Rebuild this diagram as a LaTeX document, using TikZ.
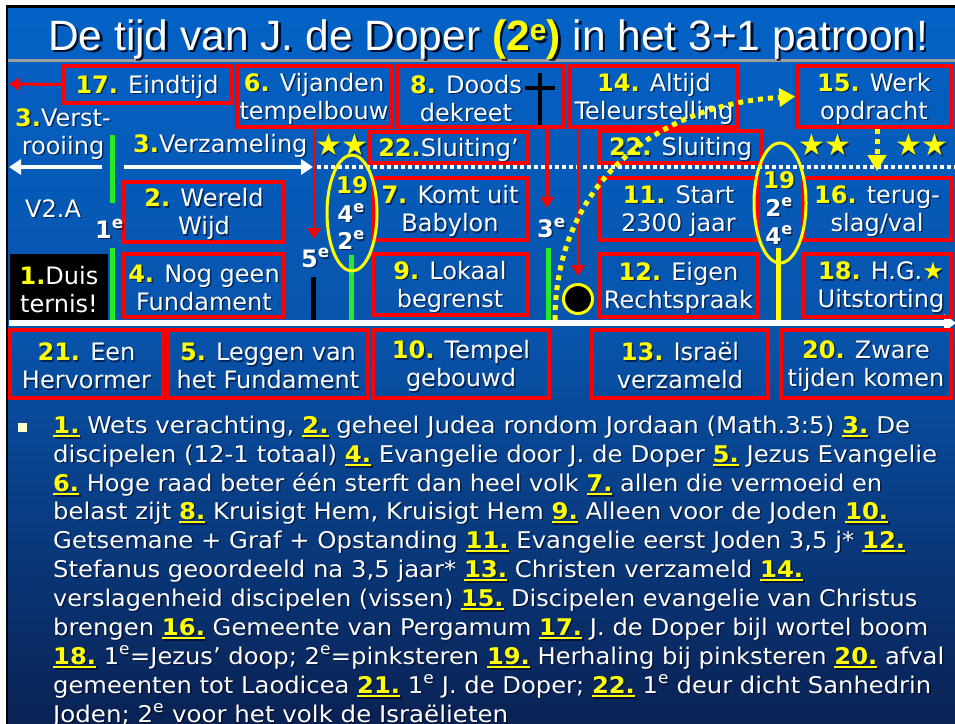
\documentclass[tikz,border=0pt]{standalone}
\usepackage{fontspec}
\setmainfont{DejaVu Sans}
\newfontfamily\titlefont{Liberation Sans}
\usepackage{graphicx}
\usetikzlibrary{arrows.meta,shapes.geometric}
\definecolor{bgA}{RGB}{4,98,198}
\definecolor{bgB}{RGB}{8,84,172}
\definecolor{bgC}{RGB}{10,34,84}
\definecolor{ylw}{RGB}{255,255,0}
\definecolor{rd}{RGB}{255,0,0}
\definecolor{grn}{RGB}{40,235,40}
\definecolor{shadowc}{RGB}{0,0,20}
\definecolor{bulc}{RGB}{255,255,204}
\colorlet{nyel}{ylw}
\newcommand\ynum[1]{\textcolor{nyel}{\textbf{#1}}}
\newcommand\ynumu[1]{\textcolor{nyel}{\setbox0\hbox{\textbf{#1}}\rlap{\rule[-4pt]{\wd0}{2.5pt}}\box0}}
\newcommand\supe{\textsuperscript{e}}
\newcommand\boxfont{\fontsize{24}{28}\selectfont}
\newcommand\lnfont{\fontsize{23}{29}\selectfont}
\newcommand\ttltext{\resizebox{880pt}{!}{\titlefont\fontsize{42}{50}\selectfont De tijd van J. de Doper \textcolor{nyel}{\textbf{(2\textsuperscript{e})}} in het 3+1 patroon!}}

\tikzset{
 rbox/.style={draw=rd, line width=3.5pt, inner sep=0pt},
 btx/.style={align=center, font=\boxfont, text=white, inner sep=0pt},
 blab/.style={btx, anchor=base west, font=\boxfont\bfseries},
 elab/.style={btx, font=\fontsize{23}{27}\selectfont\bfseries},
 stars/.style={text=ylw, inner sep=0pt, font=\fontsize{30}{30}\selectfont},
 shadowtxt/.style={text=shadowc, text opacity=0.55, execute at begin node={\colorlet{nyel}{shadowc}}},
 ltx/.style={anchor=base west, font=\lnfont, text=white, inner sep=0pt},
 rarrow/.style={draw=rd, line width=3pt, -{Triangle[length=11pt,width=13pt]}},
 warrow/.style={draw=white, line width=4pt, -{Triangle[length=12pt,width=15pt]}},
 ydot/.style={draw=ylw, line width=5pt, dash pattern=on 5pt off 5pt, -{Triangle[length=16pt,width=18pt]}},
 vbar/.style={line width=5pt},
}

\newcommand\boxlab[7]{%
 \node[rbox, minimum width={#4-#2}, minimum height={#5-#3}] (#1) at ({(#2+#4)/2},{(#3+#5)/2}) {};
 \node[btx, shadowtxt] (#1s) at ({(#2+#4)/2+#6+1.5},{(#3+#5)/2+3.5}) {#7};
 \node[btx] (#1t) at ({(#2+#4)/2+#6},{(#3+#5)/2+2}) {#7};}
\newcommand\freelab[4]{%
 \node[#3, shadowtxt] (#1s) at ([shift={(1.5,1.5)}]#2) {#4};
 \node[#3] (#1) at (#2) {#4};}
\newcommand\txtline[4]{%
 \node[ltx, shadowtxt] (#1s) at (54.5,{#2+1.5}) {\resizebox{#3pt}{\height}{#4}};
 \node[ltx] (#1) at (53,#2) {\resizebox{#3pt}{\height}{#4}};}

\begin{document}
\begin{tikzpicture}[x=1pt,y=-1pt]
\useasboundingbox (0,0) rectangle (955,723);
\fill[white] (0,0) rectangle (955,723);
\fill[top color=bgA, bottom color=bgB] (8,8) rectangle (955,330);
\fill[top color=bgB, bottom color=bgC] (8,330) rectangle (955,723);
\draw[black, line width=2.5pt] (7,730) -- (7,6.5) -- (960,6.5);
\fill[black!38] (8,58.5) rectangle (955,62);

% title
\node[anchor=base west, inner sep=0pt, text=shadowc, text opacity=0.85,
      execute at begin node={\colorlet{nyel}{shadowc}}] (ttls) at (50.5,52.5) {\ttltext};
\node[anchor=base west, inner sep=0pt, text=white] (ttl) at (48,50) {\ttltext};

% white arrows on the upper line
\coordinate (wl0) at (102,167); \coordinate (wl1) at (9,167);
\coordinate (wr0) at (124,167); \coordinate (wr1) at (313,167);
\coordinate (wd0) at (317,167); \coordinate (wd1) at (955,167);
\draw[warrow] (wl0) -- (wl1);
\draw[warrow] (wr0) -- (wr1);
\draw[white, line width=4pt, dash pattern=on 3.5pt off 3.5pt] (wd0) -- (wd1);

% vertical bars
\coordinate (g1a) at (112,135); \coordinate (g1b) at (112,203);
\coordinate (g2a) at (112,248); \coordinate (g2b) at (112,320);
\coordinate (k1a) at (313,277); \coordinate (k1b) at (313,320);
\coordinate (g3a) at (351,255); \coordinate (g3b) at (351,320);
\coordinate (g4a) at (548,248); \coordinate (g4b) at (548,320);
\coordinate (y1a) at (778,248); \coordinate (y1b) at (778,320);
\draw[vbar, grn] (g1a) -- (g1b);
\draw[vbar, grn] (g2a) -- (g2b);
\draw[vbar, black] (k1a) -- (k1b);
\draw[vbar, grn] (g3a) -- (g3b);
\draw[vbar, grn] (g4a) -- (g4b);
\draw[vbar, ylw] (y1a) -- (y1b);

% main time axis
\coordinate (ax0) at (9,323); \coordinate (ax1) at (956,323);
\draw[white, line width=6pt, -{Triangle[length=12pt,width=17pt]}] (ax0) -- (ax1);

% black box
\node[fill=black, minimum width=98, minimum height=66, inner sep=0pt] (blk) at (59,287) {};
\freelab{blkt}{59,290}{btx}{\ynum{1.}Duis\\ternis!}

% red boxes
\boxlab{b17}{63}{66}{231}{103}{0}{\ynum{17.} Eindtijd}
\boxlab{b6}{237}{66}{391}{127}{0}{\ynum{6.} Vijanden\\tempelbouw}
\boxlab{b8}{397}{66}{563}{127}{(-14)}{\ynum{8.} Doods\\dekreet}
\boxlab{b14}{570}{66}{738}{127}{0}{\ynum{14.} Altijd\\Teleurstelling}
\boxlab{b15}{797}{66}{951}{127}{0}{\ynum{15.} Werk\\opdracht}
\boxlab{b22a}{370}{132}{527}{163}{0}{\ynum{22.}Sluiting’}
\boxlab{b22}{600}{131}{761}{163}{0}{\ynum{22.} Sluiting}
\boxlab{b2}{124}{182}{284}{242}{0}{\ynum{2.} Wereld\\Wijd}
\boxlab{b4}{124}{254}{284}{317}{0}{\ynum{4.} Nog geen\\Fundament}
\boxlab{b7}{373}{178}{527}{240}{0}{\ynum{7.} Komt uit\\Babylon}
\boxlab{b9}{373}{254}{527}{315}{0}{\ynum{9.} Lokaal\\begrenst}
\boxlab{b11}{599}{178}{758}{240}{0}{\ynum{11.} Start\\2300 jaar}
\boxlab{b12}{599}{254}{758}{317}{0}{\ynum{12.} Eigen\\Rechtspraak}
\boxlab{b16}{803}{178}{951}{240}{0}{\ynum{16.} terug-\\slag/val}
\boxlab{b18}{803}{254}{951}{317}{4}{\ynum{18.} H.G.\textcolor{nyel}{★}\\Uitstorting}
\boxlab{b21}{10}{330}{163}{398}{0}{\ynum{21.} Een\\Hervormer}
\boxlab{b5}{168}{330}{368}{398}{0}{\ynum{5.} Leggen van\\het Fundament}
\boxlab{b10}{373}{330}{549}{398}{0}{\ynum{10.} Tempel\\gebouwd}
\boxlab{b13}{592}{330}{768}{398}{0}{\ynum{13.} Israël\\verzameld}
\boxlab{b20}{781}{330}{951}{398}{0}{\ynum{20.} Zware\\tijden komen}

% cross in box 8
\coordinate (cr1) at (540,73); \coordinate (cr2) at (540,125);
\coordinate (cr3) at (525,88); \coordinate (cr4) at (555,88);
\draw[black, line width=3.5pt] (cr1) -- (cr2);
\draw[black, line width=3.5pt] (cr3) -- (cr4);

% free labels
\freelab{vr}{63,134}{btx}{\ynum{3.}Verst-\\rooiing}
\freelab{vz}{133,152}{btx, anchor=base west}{\ynum{3.}Verzameling}
\freelab{v2a}{25,217}{btx, anchor=base west}{V2.A}
\freelab{e1}{95,238}{blab}{1\supe}
\freelab{e5}{301,267}{blab}{5\supe}
\freelab{e3}{537,237}{blab}{3\supe}
\freelab{st1}{342,145}{stars}{★★}
\freelab{st2}{825,145}{stars}{★★}
\freelab{st3}{922,145}{stars}{★★}

% ellipses
\node[ellipse, draw=ylw, line width=3pt, minimum width=50, minimum height=116, inner sep=0pt] (el1) at (352,213) {};
\node[ellipse, draw=ylw, line width=3pt, minimum width=52, minimum height=120, inner sep=0pt] (el2) at (780,203) {};
\freelab{l19a}{352,185}{elab}{\ynum{19}}
\freelab{l4a}{351,213}{elab}{4\supe}
\freelab{l2a}{351,240}{elab}{2\supe}
\freelab{l19b}{779,180}{elab}{\ynum{19}}
\freelab{l2b}{779,207}{elab}{2\supe}
\freelab{l4b}{779,235}{elab}{4\supe}

% red arrows
\coordinate (e17) at (9,84);
\coordinate (e6) at (314,239);
\coordinate (e8) at (547,208);
\coordinate (e14) at (578,276);
\draw[rarrow] (b17.west) -- (e17);
\draw[rarrow] (b6.south) -- (e6);
\draw[rarrow] (e8 |- b8.south) -- (e8);
\draw[rarrow] (e14 |- b14.south) -- (e14);

% black dot
\node[circle, fill=black, draw=ylw, line width=3pt, minimum size=29, inner sep=0pt] (dot) at (578,299) {};

% yellow dotted arrows
\coordinate (e15) at (877,171);
\draw[ydot] (e15 |- b15.south) -- (e15);
\coordinate (c0) at (555,320);
\draw[ydot] (c0) .. controls (555,190) and (650,105) .. (b15.west);

% bullet text
\node[fill=bulc, minimum size=9, inner sep=0pt] (bul) at (22.5,427.5) {};
\txtline{t1}{433}{857}{\ynumu{1.} Wets verachting, \ynumu{2.} geheel Judea rondom Jordaan (Math.3:5) \ynumu{3.} De}
\txtline{t2}{462}{884}{discipelen (12-1 totaal) \ynumu{4.} Evangelie door J. de Doper \ynumu{5.} Jezus Evangelie}
\txtline{t3}{491}{829}{\ynumu{6.} Hoge raad beter één sterft dan heel volk \ynumu{7.} allen die vermoeid en}
\txtline{t4}{519}{835}{belast zijt \ynumu{8.} Kruisigt Hem, Kruisigt Hem \ynumu{9.} Alleen voor de Joden \ynumu{10.}}
\txtline{t5}{548}{852}{Getsemane + Graf + Opstanding \ynumu{11.} Evangelie eerst Joden 3,5 j* \ynumu{12.}}
\txtline{t6}{577}{750}{Stefanus geoordeeld na 3,5 jaar* \ynumu{13.} Christen verzameld \ynumu{14.}}
\txtline{t7}{606}{864}{verslagenheid discipelen (vissen) \ynumu{15.} Discipelen evangelie van Christus}
\txtline{t8}{635}{875}{brengen \ynumu{16.} Gemeente van Pergamum \ynumu{17.} J. de Doper bijl wortel boom}
\txtline{t9}{664}{891}{\ynumu{18.} 1\supe=Jezus’ doop; 2\supe=pinksteren \ynumu{19.} Herhaling bij pinksteren \ynumu{20.} afval}
\txtline{t10}{693}{878}{gemeenten tot Laodicea \ynumu{21.} 1\supe{} J. de Doper; \ynumu{22.} 1\supe{} deur dicht Sanhedrin}
\txtline{t11}{722}{455}{Joden; 2\supe{} voor het volk de Israëlieten}
\end{tikzpicture}
\end{document}
